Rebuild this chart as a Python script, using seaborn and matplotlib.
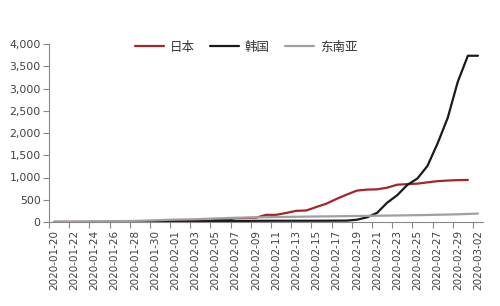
import matplotlib
matplotlib.use("Agg")
import matplotlib.pyplot as plt
import matplotlib.ticker as mticker
import numpy as np
import pandas as pd
import seaborn as sns

dates = pd.date_range("2020-01-20", "2020-03-02", freq="D").strftime("%Y-%m-%d").tolist()

japan = [1, 1, 1, 1, 2, 2, 4, 4, 7, 7, 11, 15, 20, 20, 20, 22, 45, 45, 86, 89,
         96, 161, 161, 203, 251, 259, 338, 414, 520, 616, 705, 728, 734, 771, 838,
         851, 862, 891, 918, 932, 941, 945]
korea = [1, 1, 1, 1, 2, 2, 3, 4, 4, 4, 6, 11, 12, 15, 15, 16, 19, 23, 24, 24,
         27, 27, 28, 28, 28, 28, 28, 29, 30, 31, 51, 104, 204, 433, 602, 833, 977,
         1261, 1766, 2337, 3150, 3736, 3736]
sea = [2, 2, 4, 7, 9, 14, 17, 20, 26, 31, 38, 47, 54, 58, 62, 71, 80, 88, 95, 100,
       104, 108, 111, 115, 118, 121, 124, 126, 129, 132, 135, 138, 141, 144, 147,
       150, 154, 158, 163, 168, 173, 180, 190]

series_names = ["日本", "韩国", "东南亚"]
series_values = [japan, korea, sea]
colors = ["#A3262A", "#1A1A1A", "#A0A0A0"]

rows = []
for name, vals in zip(series_names, series_values):
    for i, v in enumerate(vals):
        rows.append({"idx": i, "value": v, "series": name})
df = pd.DataFrame(rows)

sns.set_theme(style="white")
plt.rcParams["font.family"] = ["DejaVu Sans", "Noto Sans CJK SC"]

fig = plt.figure(figsize=(5.0, 3.06), dpi=100)
ax = fig.add_axes([49 / 500, 1 - 222 / 306, (483 - 49) / 500, (222 - 44) / 306])

sns.lineplot(data=df, x="idx", y="value", hue="series", hue_order=series_names,
             palette=colors, linewidth=1.6, ax=ax, legend=True)

ax.set_xlim(-0.5, len(dates) - 0.5)
ax.set_ylim(0, 4000)
ax.yaxis.set_major_locator(mticker.MultipleLocator(500))
ax.yaxis.set_major_formatter(mticker.FuncFormatter(lambda v, p: f"{int(v):,}"))

label_idx = list(range(0, len(dates), 2))
ax.set_xticks(label_idx)
ax.set_xticklabels([dates[i] for i in label_idx], rotation=90)
ax.set_xticks([i - 0.5 for i in label_idx], minor=True)
ax.tick_params(axis="x", which="major", length=0, pad=6, labelsize=7.5, colors="#404040")
ax.tick_params(axis="x", which="minor", length=4, width=0.8, color="#888888", direction="out", bottom=True)
ax.tick_params(axis="y", which="major", length=4, width=0.8, color="#888888", direction="out",
               left=True, labelsize=7.8, labelcolor="#404040", pad=2)

ax.set_xlabel("")
ax.set_ylabel("")
for s in ["top", "right"]:
    ax.spines[s].set_visible(False)
for s in ["left", "bottom"]:
    ax.spines[s].set_color("#888888")
    ax.spines[s].set_linewidth(0.8)

handles, labels = ax.get_legend_handles_labels()
ax.legend_.remove()
fig.legend(handles, labels, loc="center", bbox_to_anchor=(246 / 500, 1 - 47 / 306),
           ncol=3, frameon=False, fontsize=9, handlelength=2.3, columnspacing=1.2,
           handletextpad=0.5, labelcolor="#333333")

fig.savefig("out.png", dpi=100)
